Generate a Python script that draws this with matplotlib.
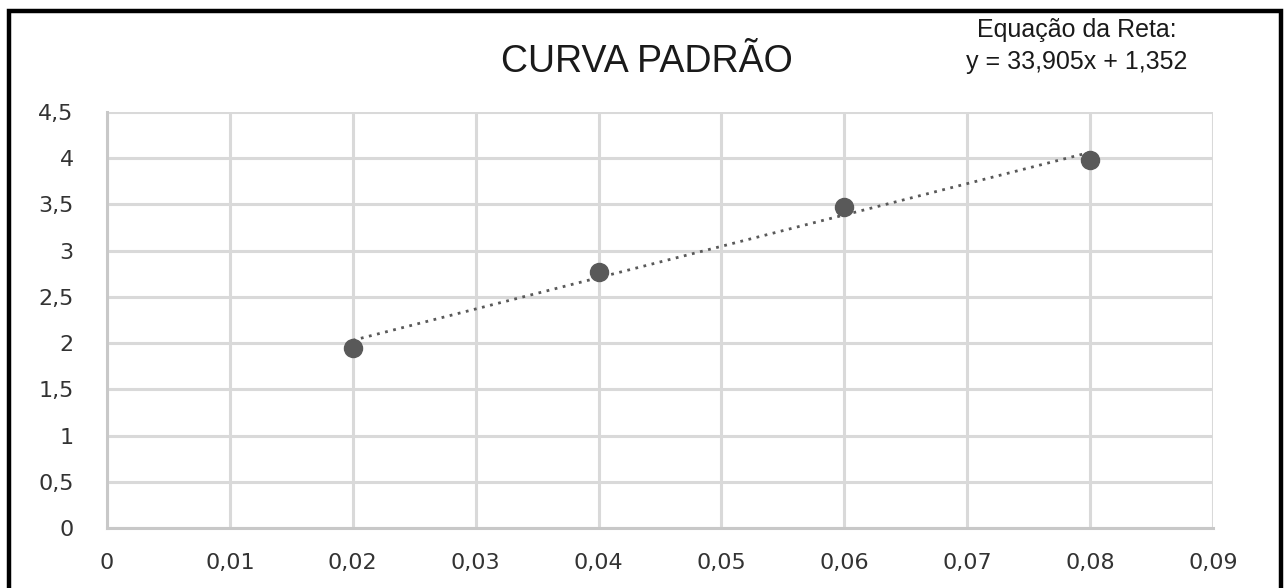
import numpy as np
import matplotlib
matplotlib.use('Agg')
import matplotlib.pyplot as plt
from matplotlib.patches import Rectangle
from matplotlib.ticker import FuncFormatter

# dados da curva padrão
concentracao = [0.02, 0.04, 0.06, 0.08]
absorbancia = [1.95, 2.77, 3.47, 3.98]
inclinacao = 33.905
intercepto = 1.352

x_ticks = [0, 0.01, 0.02, 0.03, 0.04, 0.05, 0.06, 0.07, 0.08, 0.09]
y_ticks = [0, 0.5, 1, 1.5, 2, 2.5, 3, 3.5, 4, 4.5]

cinza = '#595959'
grade = '#d9d9d9'

plt.rcParams['font.family'] = ['DejaVu Sans']

fig = plt.figure(figsize=(12.88, 5.88), dpi=100)
ax = fig.add_axes([107 / 1288, 1 - 528 / 588, (1213 - 107) / 1288, (528 - 112) / 588])

# linha de tendência
xt = np.array([concentracao[0], concentracao[-1]])
ax.plot(xt, inclinacao * xt + intercepto, linestyle=(0, (1, 2)), color=cinza, lw=2.0, zorder=2)
ax.plot(concentracao, absorbancia, 'o', color=cinza, markersize=13, zorder=3)

ax.set_xlim(0, 0.09)
ax.set_ylim(0, 4.5)
ax.set_xticks(x_ticks)
ax.set_yticks(y_ticks)
virgula = FuncFormatter(lambda v, p: ('%g' % round(v, 4)).replace('.', ','))
ax.xaxis.set_major_formatter(virgula)
ax.yaxis.set_major_formatter(virgula)
ax.tick_params(length=0, labelsize=16, labelcolor='#333333')
ax.tick_params(axis='y', pad=24)
ax.tick_params(axis='x', pad=18)

ax.grid(True, color=grade, lw=2.2)
ax.set_axisbelow(True)
for s in ['top', 'right']:
    ax.spines[s].set_visible(False)
for s in ['left', 'bottom']:
    ax.spines[s].set_color('#c8c8c8')
    ax.spines[s].set_linewidth(2.2)

fig.text(647 / 1288, 1 - 62 / 588, 'CURVA PADRÃO', ha='center', va='center',
         fontsize=27, family=['Liberation Sans', 'DejaVu Sans'], color='#1a1a1a')
fig.text(1077 / 1288, 1 - 46 / 588, 'Equação da Reta:\ny = 33,905x + 1,352', ha='center', va='center',
         fontsize=18, family=['Liberation Sans', 'DejaVu Sans'], color='#1a1a1a', linespacing=1.45)

# moldura preta
fig.patches.append(Rectangle((9 / 1288, -0.05), (1281 - 9) / 1288, 1.05 - 11 / 588,
                             transform=fig.transFigure, fill=False, edgecolor='black', lw=3.2))

fig.savefig('out.png', dpi=100)
